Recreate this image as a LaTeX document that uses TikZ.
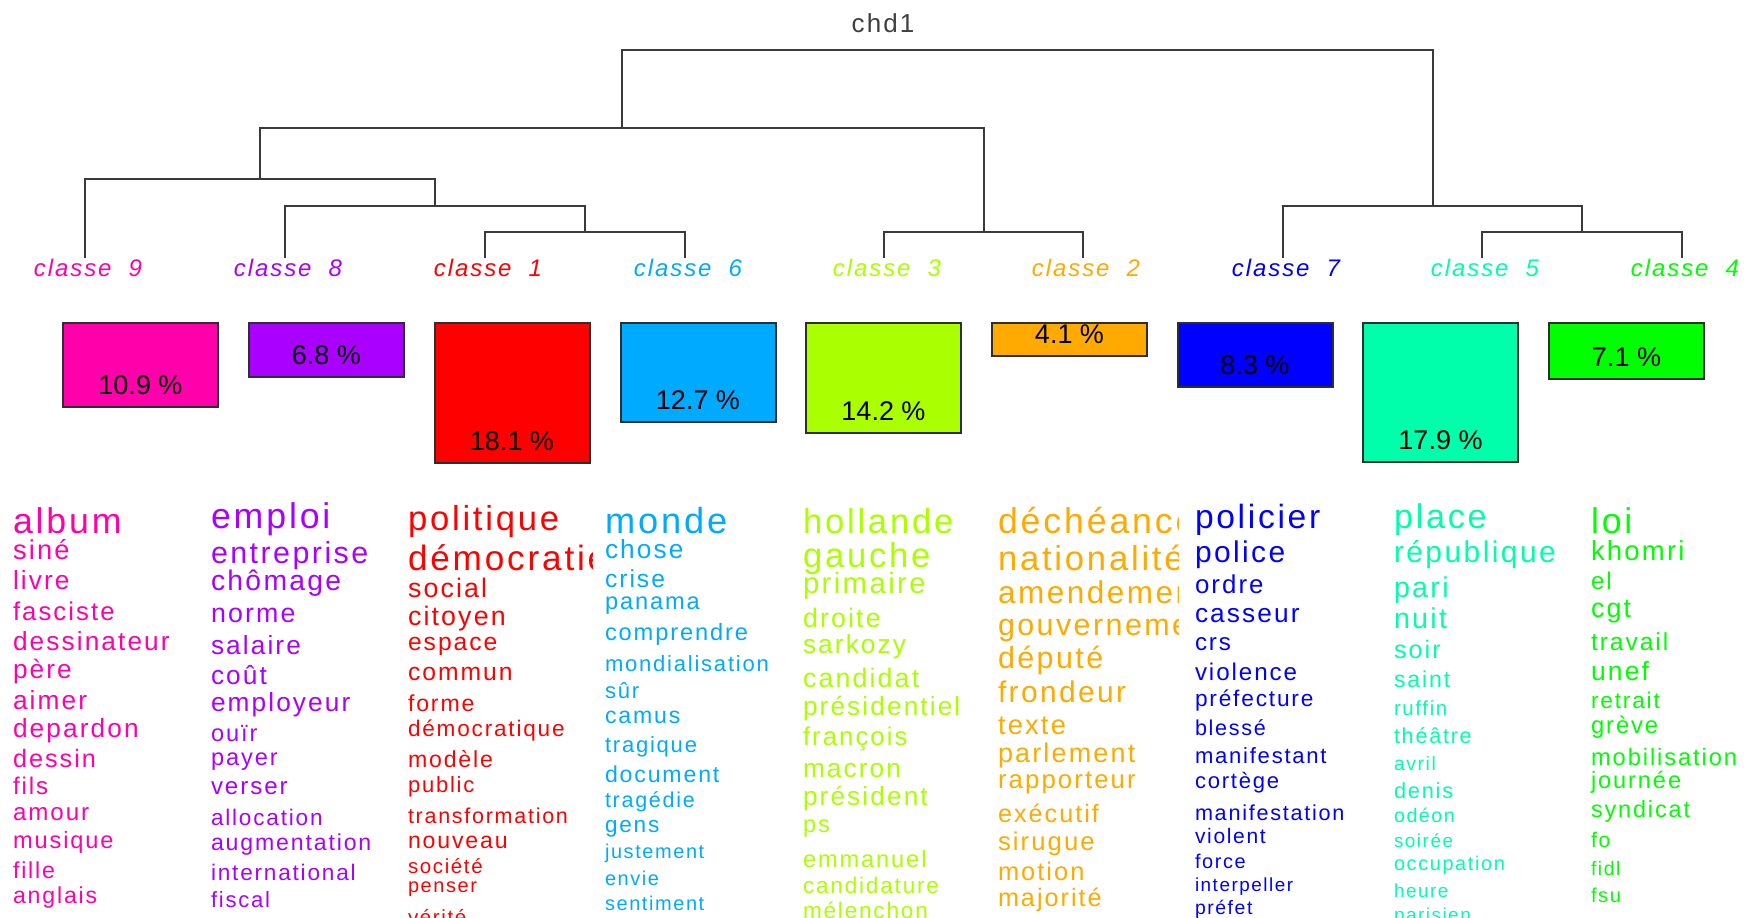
\documentclass[tikz,border=0pt]{standalone}
\usepackage{fontspec}
\setmainfont{Liberation Sans}
\newfontfamily\wfont[LetterSpace=8]{Liberation Sans}
\newfontfamily\pfont{Liberation Sans}
\definecolor{c1}{HTML}{FF0000}
\definecolor{c2}{HTML}{FFAA00}
\definecolor{c3}{HTML}{AAFF00}
\definecolor{c4}{HTML}{00FF00}
\definecolor{c5}{HTML}{00FFAA}
\definecolor{c6}{HTML}{00AAFF}
\definecolor{c7}{HTML}{0000FF}
\definecolor{c8}{HTML}{AA00FF}
\definecolor{c9}{HTML}{FF00AA}
\definecolor{tgray}{HTML}{404040}
\definecolor{lgray}{HTML}{3A3A3A}
\tikzset{
  dendro/.style={draw=lgray, line width=1pt},
  pbox/.style={draw=lgray!80!black, line width=1pt, anchor=north west, inner sep=0, outer sep=0, minimum width=77.5pt},
  pct/.style={font=\pfont\fontsize{13.5}{15}\selectfont, text=black, inner sep=0},
  clabel/.style={font=\wfont\itshape\fontsize{12}{14}\selectfont, anchor=base, inner sep=0},
  word/.style={anchor=base west, inner sep=0, outer sep=0},
}
\newcommand\wordcol[5]{%
  \begin{scope}
    \clip (#2-12,440) rectangle (#3,917);
    \foreach \s/\y/\t [count=\i, evaluate=\s as \fs using \s*0.525] in {#5} {
      \node[word, text=#4, font=\wfont\fontsize{\fs}{\fs}\selectfont] (#1-\i) at (#2,\y) {\t};
    }
  \end{scope}}
\begin{document}
\begin{tikzpicture}[x=0.5pt,y=-0.5pt]
\useasboundingbox (0,0) rectangle (1747,917);
\fill[white] (0,0) rectangle (1747,917);
\clip (0,0) rectangle (1747,917);

% title
\node[font=\wfont\fontsize{13}{15}\selectfont, text=tgray, anchor=base, inner sep=0] (title) at (883,32) {chd1};

% dendrogram
\coordinate (L9) at (85,258);
\coordinate (L8) at (285,258);
\coordinate (L1) at (485,258);
\coordinate (L6) at (685,258);
\coordinate (L3) at (884,258);
\coordinate (L2) at (1083,258);
\coordinate (L7) at (1283,258);
\coordinate (L5) at (1482,258);
\coordinate (L4) at (1682,258);
\coordinate (N16) at (585,232);
\coordinate (N816) at (435,206);
\coordinate (N9816) at (260,179);
\coordinate (N32) at (983.5,232);
\coordinate (NL) at (621.5,128);
\coordinate (N54) at (1582,232);
\coordinate (NR) at (1432.5,206);
\coordinate (ROOT) at (1027,50);
\draw[dendro] (L1) |- (N16) -| (L6);
\draw[dendro] (L8) |- (N816) -| (N16);
\draw[dendro] (L9) |- (N9816) -| (N816);
\draw[dendro] (L3) |- (N32) -| (L2);
\draw[dendro] (N9816) |- (NL) -| (N32);
\draw[dendro] (L5) |- (N54) -| (L4);
\draw[dendro] (L7) |- (NR) -| (N54);
\draw[dendro] (NL) |- (ROOT) -| (NR);

% class labels
\node[clabel, text=c9] (K9) at (88,276) {classe\ \ 9};
\node[clabel, text=c8] (K8) at (288,276) {classe\ \ 8};
\node[clabel, text=c1] (K1) at (488,276) {classe\ \ 1};
\node[clabel, text=c6] (K6) at (688,276) {classe\ \ 6};
\node[clabel, text=c3] (K3) at (887,276) {classe\ \ 3};
\node[clabel, text=c2] (K2) at (1086,276) {classe\ \ 2};
\node[clabel, text=c7] (K7) at (1286,276) {classe\ \ 7};
\node[clabel, text=c5] (K5) at (1485,276) {classe\ \ 5};
\node[clabel, text=c4] (K4) at (1685,276) {classe\ \ 4};

% boxes
\node[pbox, fill=c9, minimum height=42pt] (B9) at (63,323) {};
\node[pbox, fill=c8, minimum height=27pt] (B8) at (249,323) {};
\node[pbox, fill=c1, minimum height=70pt] (B1) at (434.5,323) {};
\node[pbox, fill=c6, minimum height=49.5pt] (B6) at (620.5,323) {};
\node[pbox, fill=c3, minimum height=55pt] (B3) at (806,323) {};
\node[pbox, fill=c2, minimum height=16.5pt] (B2) at (992,323) {};
\node[pbox, fill=c7, minimum height=32pt] (B7) at (1177.5,323) {};
\node[pbox, fill=c5, minimum height=69.5pt] (B5) at (1363,323) {};
\node[pbox, fill=c4, minimum height=28pt] (B4) at (1549,323) {};
\node[pct] (P9) at ([yshift=11pt]B9.south) {10.9 \%};
\node[pct] (P8) at ([yshift=11pt]B8.south) {6.8 \%};
\node[pct] (P1) at ([yshift=11pt]B1.south) {18.1 \%};
\node[pct] (P6) at ([yshift=11pt]B6.south) {12.7 \%};
\node[pct] (P3) at ([yshift=11pt]B3.south) {14.2 \%};
\node[pct] (P2) at ([yshift=11pt]B2.south) {4.1 \%};
\node[pct] (P7) at ([yshift=11pt]B7.south) {8.3 \%};
\node[pct] (P5) at ([yshift=11pt]B5.south) {17.9 \%};
\node[pct] (P4) at ([yshift=11pt]B4.south) {7.1 \%};

% word columns
\wordcol{W9}{13}{196}{c9}{34/533/album, 26/559/siné, 25/589/livre, 24.5/620/fasciste, 25/650/dessinateur, 25/678/père, 25/709/aimer, 25/737/depardon, 24/767/dessin, 23/794/fils, 23/820/amour, 22.5/848/musique, 22/878/fille, 22/903/anglais}
\wordcol{W8}{211}{393}{c8}{34/528/emploi, 29/563/entreprise, 27/590/chômage, 25.5/622/norme, 25/654/salaire, 25/684/coût, 25/711/employeur, 22.5/741/ouïr, 22.5/765/payer, 23/794/verser, 21.5/825/allocation, 22/850/augmentation, 21.5/880/international, 21/907/fiscal}
\wordcol{W1}{408}{592}{c1}{33/530/politique, 33.5/570/démocratie, 25.5/597/social, 25.5/625/citoyen, 23.5/650/espace, 23.5/680/commun, 22/711/forme, 21.5/736/démocratique, 22/767/modèle, 21/792/public, 20.5/823/transformation, 22/848/nouveau, 19.5/873/société, 19/892/penser, 19.5/924/vérité}
\wordcol{W6}{605}{788}{c6}{34.5/533/monde, 25/558/chose, 23.5/587/crise, 22.5/609/panama, 22.5/640/comprendre, 21/671/mondialisation, 21/698/sûr, 22/723/camus, 21/752/tragique, 22/782/document, 20.5/807/tragédie, 21.5/832/gens, 19/858/justement, 19/885/envie, 19/910/sentiment}
\wordcol{W3}{803}{983}{c3}{33/533/hollande, 33/567/gauche, 28/593/primaire, 25.5/627/droite, 25/653/sarkozy, 25.5/687/candidat, 25/715/présidentiel, 24.5/745/françois, 25/777/macron, 25/805/président, 22.5/832/ps, 22.5/867/emmanuel, 21.5/893/candidature, 21.5/918/mélenchon}
\wordcol{W2}{998}{1178}{c2}{34/533/déchéance, 33/570/nationalité, 30/603/amendement, 29/635/gouvernement, 29/668/député, 28.5/702/frondeur, 26/734/texte, 25.7/762/parlement, 24.6/788/rapporteur, 24/822/exécutif, 24.5/850/sirugue, 24.2/880/motion, 24/906/majorité}
\wordcol{W7}{1195}{1379}{c7}{32/528/policier, 28.5/562/police, 24.6/593/ordre, 25/622/casseur, 23/650/crs, 23/680/violence, 21.6/706/préfecture, 20.5/735/blessé, 21/763/manifestant, 21/788/cortège, 20.6/820/manifestation, 20/843/violent, 19/868/force, 18/891/interpeller, 18.5/914/préfet}
\wordcol{W5}{1394}{1576}{c5}{32.6/528/place, 28.6/562/république, 27.3/597/pari, 27.3/628/nuit, 24/658/soir, 22/687/saint, 19.5/715/ruffin, 20.6/743/théâtre, 18.5/770/avril, 20.8/798/denis, 18.7/822/odéon, 18/847/soirée, 19/870/occupation, 18/897/heure, 18/921/parisien}
\wordcol{W4}{1591}{1747}{c4}{34/533/loi, 26.2/560/khomri, 23/589/el, 25.6/617/cgt, 23.4/650/travail, 25.3/680/unef, 21.6/708/retrait, 22.7/733/grève, 22.6/765/mobilisation, 22.5/788/journée, 22.3/817/syndicat, 20.2/847/fo, 18.5/875/fidl, 19.2/902/fsu}
\end{tikzpicture}
\end{document}
